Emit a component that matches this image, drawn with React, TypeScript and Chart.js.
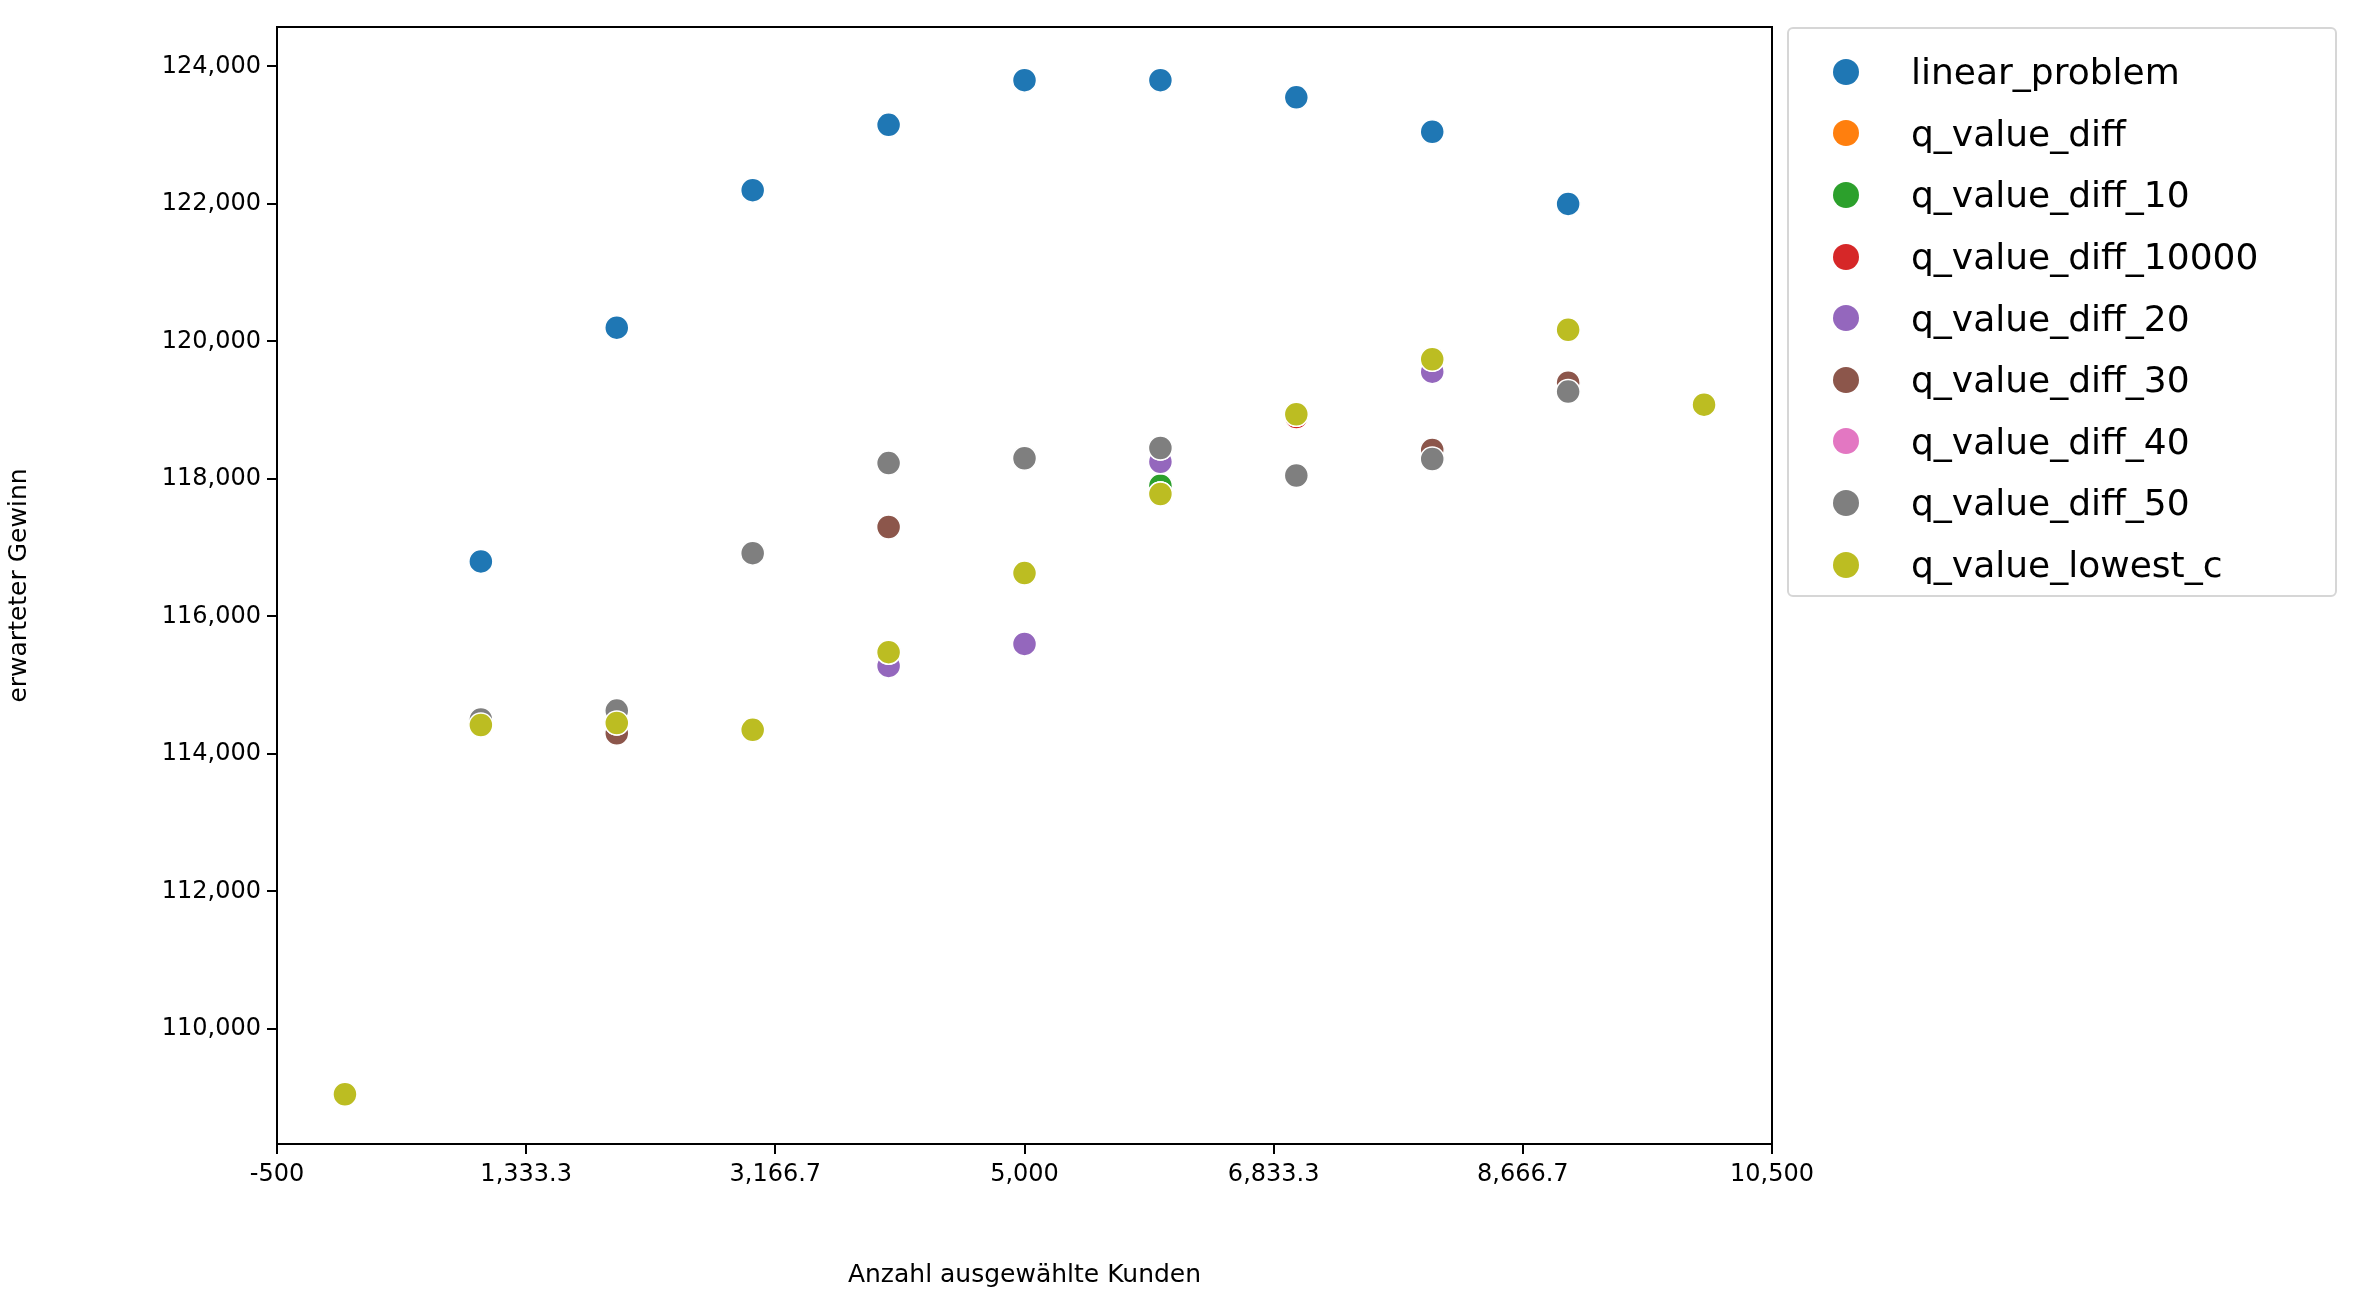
import { useEffect, useRef } from "react";
import Chart from "chart.js/auto";

const xValues = [0, 1000, 2000, 3000, 4000, 5000, 6000, 7000, 8000, 9000, 10000];

const seriesNames = [
  "linear_problem",
  "q_value_diff",
  "q_value_diff_10",
  "q_value_diff_10000",
  "q_value_diff_20",
  "q_value_diff_30",
  "q_value_diff_40",
  "q_value_diff_50",
  "q_value_lowest_c",
];

const seriesColors = [
  "#1f77b4", "#ff7f0e", "#2ca02c", "#d62728", "#9467bd",
  "#8c564b", "#e377c2", "#7f7f7f", "#bcbd22",
];

const linearProblem = [null, 116800, 120200, 122200, 123150, 123800, 123800, 123550, 123050, 122000, null];
const qValueDiff = [109050, 114420, 114450, 114350, 115480, 116630, 117780, 118940, 119740, 120170, 119080];
const qValueDiff10 = [109050, 114420, 114450, 114350, 115480, 116630, 117900, 118940, 119740, 120170, 119080];
const qValueDiff10000 = [109050, 114420, 114450, 114350, 115480, 116630, 117780, 118900, 119740, 120170, 119080];
const qValueDiff20 = [109050, 114420, 114450, 114350, 115280, 115600, 118250, 118940, 119560, 120170, 119080];
const qValueDiff30 = [109050, 114500, 114300, 116920, 117300, 118300, 118450, 118050, 118420, 119400, 119080];
const qValueDiff40 = [109050, 114420, 114450, 114350, 115480, 116630, 117780, 118940, 119740, 120170, 119080];
const qValueDiff50 = [109050, 114500, 114630, 116920, 118230, 118300, 118450, 118050, 118290, 119270, 119080];
const qValueLowestC = [109050, 114420, 114450, 114350, 115480, 116630, 117780, 118940, 119740, 120170, 119080];

const seriesValues = [
  linearProblem, qValueDiff, qValueDiff10, qValueDiff10000, qValueDiff20,
  qValueDiff30, qValueDiff40, qValueDiff50, qValueLowestC,
];

const FONT = "'DejaVu Sans', sans-serif";

const boxPlugin = {
  id: "box",
  afterDraw(chart: any) {
    const { ctx, chartArea } = chart;
    ctx.save();
    ctx.strokeStyle = "#000";
    ctx.lineWidth = 2;
    ctx.strokeRect(chartArea.left, chartArea.top, chartArea.right - chartArea.left, chartArea.bottom - chartArea.top);
    ctx.restore();
  },
};

export default function App() {
  const canvasRef = useRef<HTMLCanvasElement>(null);

  useEffect(() => {
    if (!canvasRef.current) return;
    document.body.style.margin = "0";
    const chart = new Chart(canvasRef.current, {
      type: "scatter",
      data: {
        datasets: seriesNames.map((name, i) => ({
          label: name,
          data: xValues
            .map((x, j) => ({ x, y: seriesValues[i][j] }))
            .filter((p) => p.y !== null) as any,
          backgroundColor: seriesColors[i],
          borderColor: "#ffffff",
          borderWidth: 1.5,
          pointRadius: 12,
          order: seriesNames.length - i,
        })),
      },
      options: {
        animation: false,
        responsive: false,
        events: [],
        layout: { padding: { top: 27, right: 588, bottom: 0, left: 0 } },
        plugins: { legend: { display: false }, tooltip: { enabled: false } },
        scales: {
          x: {
            type: "linear",
            min: -500,
            max: 10500,
            afterFit: (s: any) => { s.height = 150; },
            ticks: { stepSize: 2000, color: "#000", font: { family: FONT, size: 24 }, padding: 6 },
            grid: { drawOnChartArea: false, drawTicks: true, tickLength: 10, color: "#000", lineWidth: 2 },
            border: { color: "#000", width: 2 },
            title: { display: true, text: "Anzahl ausgewählte Kunden", color: "#000", font: { family: FONT, size: 25 }, padding: { top: 4 } },
          },
          y: {
            min: 108326,
            max: 124573,
            afterFit: (s: any) => { s.width = 277; },
            afterBuildTicks: (s: any) => {
              s.ticks = [110000, 112000, 114000, 116000, 118000, 120000, 122000, 124000].map((v) => ({ value: v }));
            },
            ticks: { color: "#000", font: { family: FONT, size: 24 }, padding: 6 },
            grid: { drawOnChartArea: false, drawTicks: true, tickLength: 10, color: "#000", lineWidth: 2 },
            border: { color: "#000", width: 2 },
            title: { display: true, text: "erwarteter Gewinn", color: "#000", font: { family: FONT, size: 25 }, padding: { bottom: 10 } },
          },
        },
      },
      plugins: [boxPlugin],
    });
    return () => chart.destroy();
  }, []);

  return (
    <div style={{ position: "relative", width: 2360, height: 1294, background: "#fff" }}>
      <canvas ref={canvasRef} width={2360} height={1294} />
      <div
        style={{
          position: "absolute", left: 1787, top: 27, width: 550, height: 570,
          border: "2px solid #d6d6d6", borderRadius: 6, boxSizing: "border-box",
          fontFamily: FONT, fontSize: 36, color: "#000", padding: "12px 0 0 0",
        }}
      >
        {seriesNames.map((name, i) => (
          <div key={name} style={{ display: "flex", alignItems: "center", height: 61.6 }}>
            <span style={{ width: 26, height: 26, borderRadius: "50%", background: seriesColors[i], marginLeft: 44, marginRight: 52 }} />
            <span>{name}</span>
          </div>
        ))}
      </div>
    </div>
  );
}
